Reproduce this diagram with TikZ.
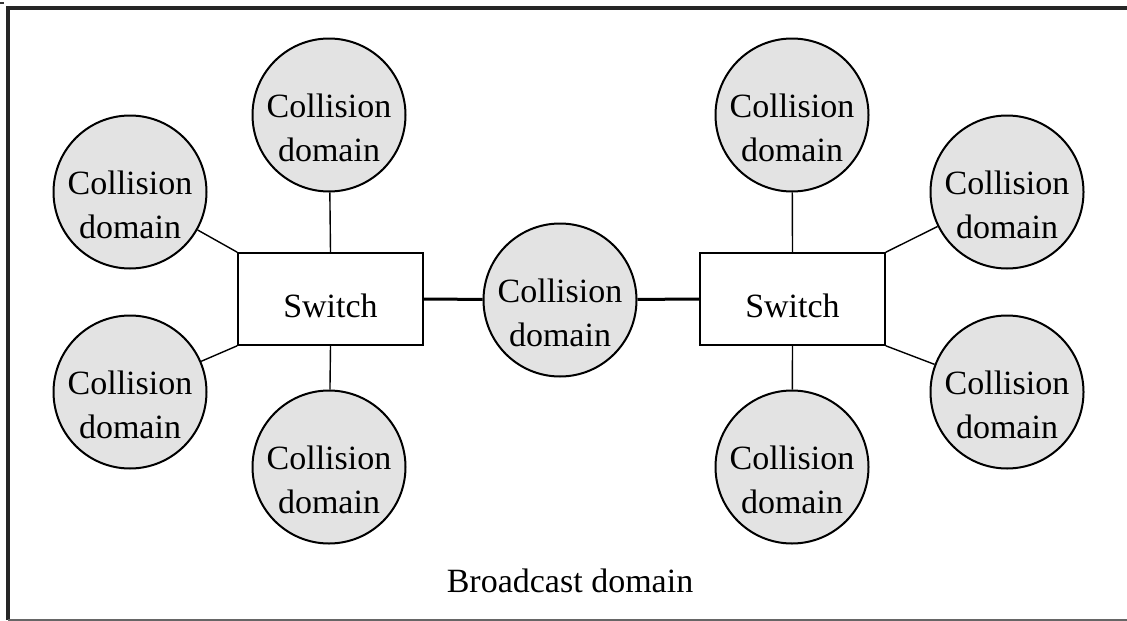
\documentclass[tikz,border=0pt]{standalone}
\usepackage{fontspec}
\setmainfont{Liberation Serif}
\begin{document}
\begin{tikzpicture}[x=1pt,y=-1pt,
  colldom/.style={circle,draw=black,line width=2pt,fill=black!11,minimum size=153pt,inner sep=0pt},
  switchbox/.style={draw=black,line width=1.6pt,fill=white,minimum width=185pt,minimum height=92pt,inner sep=0pt},
  lbl/.style={font=\fontsize{34}{40}\selectfont,anchor=base,inner sep=0pt},
  link/.style={draw=black,line width=1.4pt},
  trunk/.style={draw=black,line width=3pt}]
\useasboundingbox (0,0) rectangle (1127,621);
% outer frame
\draw[black!85,line width=3.4pt] (8,620) -- (8,8) -- (1127,8);
\draw[black!60,line width=1.6pt] (8,620) -- (1127,620);
\draw[black!80,line width=1.5pt] (0,3) -- (4,3);

% switches
\node[switchbox] (sw1) at (330.5,299) {};
\node[lbl] (sw1t) at (330.5,317) {Switch};
\node[switchbox] (sw2) at (792.5,299) {};
\node[lbl] (sw2t) at (792.5,317) {Switch};

% collision domains
\foreach \n/\x/\y in {c1/130/192, c2/130/392, c3/329/115, c4/329/467,
                      c5/560/300, c6/792/115, c7/792/467, c8/1007/192, c9/1007/392}{
  \node[colldom] (\n) at (\x,\y) {};
  \node[lbl] (\n a) at (\x,\y+2) {Collision};
  \node[lbl] (\n b) at (\x,\y+46) {domain};
}

% links
\draw[link] (sw1.north west) -- (c1);
\draw[link] (sw1.south west) -- (c2);
\draw[link] (sw1.north) -- (c3);
\draw[link] (sw1.south) -- (c4);
\draw[link] (sw2.north) -- (c6);
\draw[link] (sw2.south) -- (c7);
\draw[link] (sw2.north east) -- (c8);
\draw[link] (sw2.south east) -- (c9);
\draw[trunk] (sw1.east) -- (c5);
\draw[trunk] (c5) -- (sw2.west);

\node[lbl] (bcast) at (570,592) {Broadcast domain};
\end{tikzpicture}
\end{document}
